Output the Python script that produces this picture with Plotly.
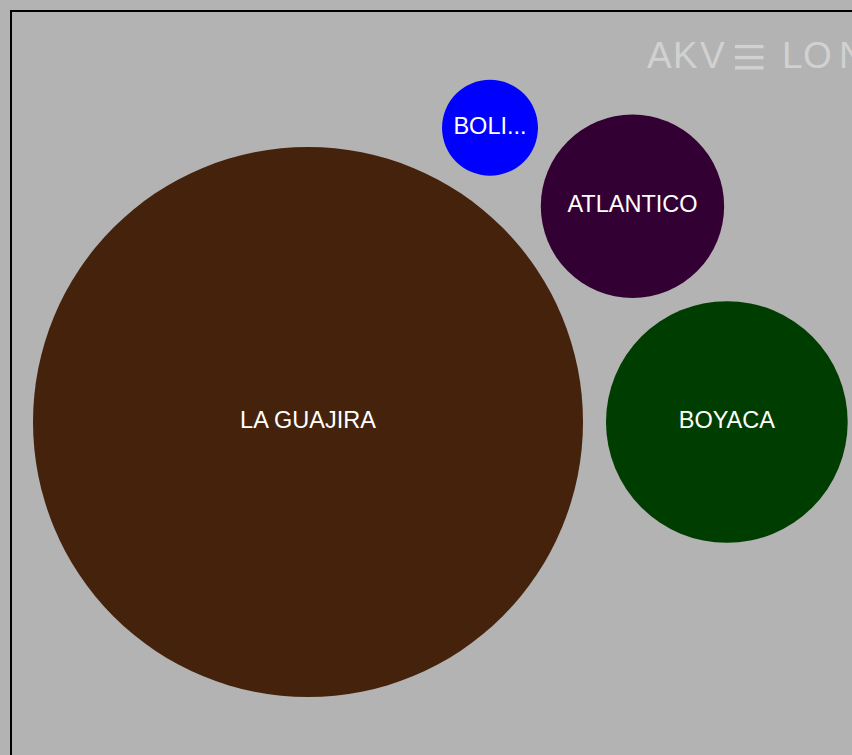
import math
import plotly.graph_objects as go

# departments and their totals
departments = ["LA GUAJIRA", "BOYACA", "ATLANTICO", "BOLIVAR"]
values = [75.6, 14.6, 8.4, 2.3]
colors = ["#45220c", "#003d00", "#330033", "#0000ff"]

W, H = 852, 755
MAX_R = 275      # px radius of the largest bubble
PAD = 23         # px gap between bubbles
FONT = 23.5
LOGO_GRAY = "#d1d1d1"


def pack(radii, pad):
    # spiral packing: each circle touches the first one and the previous one
    R = [r + pad / 2 for r in radii]
    pos = [(0.0, 0.0)]
    if len(R) > 1:
        pos.append((R[0] + R[1], 0.0))
    for k in range(2, len(R)):
        px, py = pos[k - 1]
        theta = math.atan2(py, px)
        D = R[0] + R[k - 1]
        d0 = R[0] + R[k]
        d1 = R[k - 1] + R[k]
        alpha = math.acos((d0 ** 2 + D ** 2 - d1 ** 2) / (2 * d0 * D))
        pos.append((d0 * math.cos(theta + alpha), d0 * math.sin(theta + alpha)))
    return pos


def fit_label(name, r):
    if len(name) * 0.6 * FONT > 2 * r:
        n = int(2 * r / (0.6 * FONT)) - 2
        return name[:n] + "..."
    return name


scale = MAX_R / math.sqrt(max(values))
radii = [math.sqrt(v) * scale for v in values]
centers = pack(radii, PAD)

fig = go.Figure()
for name, v, r, (cx, cy), c in zip(departments, values, radii, centers, colors):
    fig.add_trace(go.Scatter(
        x=[cx], y=[cy],
        mode="markers+text",
        marker=dict(size=2 * r, sizemode="diameter", color=c, line=dict(width=0), opacity=1),
        text=[fit_label(name, r)],
        textposition="middle center",
        textfont=dict(color="white", size=FONT, family="Arial, Liberation Sans, sans-serif"),
        hovertext=[f"{name}: {v}"],
        hoverinfo="text",
        showlegend=False,
        cliponaxis=False,
    ))

# watermark: letters of the logo, the "E" is three bars
logo = ["A", "K", "V", "L", "O", "N"]
logo_x = [645, 671, 698, 780, 801, 837]
marks = [dict(
    text=ch, xref="paper", yref="paper",
    x=lx / W, y=1 - 56 / H,
    xanchor="left", yanchor="middle",
    showarrow=False,
    font=dict(size=37, color=LOGO_GRAY, family="Arial, Liberation Sans, sans-serif"),
) for ch, lx in zip(logo, logo_x)]

shapes = [dict(
    type="rect", xref="paper", yref="paper",
    x0=11 / W, x1=1.1, y0=-0.1, y1=1 - 11 / H,
    line=dict(color="black", width=2),
)]
for by in [46.6, 57.6, 67.8]:
    shapes.append(dict(
        type="line", xref="paper", yref="paper",
        x0=735 / W, x1=763.5 / W, y0=1 - by / H, y1=1 - by / H,
        line=dict(color=LOGO_GRAY, width=3.4),
    ))

# origin of the pack sits at (308, 422) px from the top-left
ox, oy = 308, 422
fig.update_layout(
    width=W, height=H,
    margin=dict(l=0, r=0, t=0, b=0),
    paper_bgcolor="#b3b3b3",
    plot_bgcolor="#b3b3b3",
    xaxis=dict(range=[-ox, W - ox], visible=False, fixedrange=True),
    yaxis=dict(range=[-(H - oy), oy], visible=False, fixedrange=True),
    shapes=shapes,
    annotations=marks,
)

fig.write_html(
    "out.html",
    config={"displayModeBar": False},
    post_script="document.body.style.margin='0';document.body.style.background='#b3b3b3';",
)
